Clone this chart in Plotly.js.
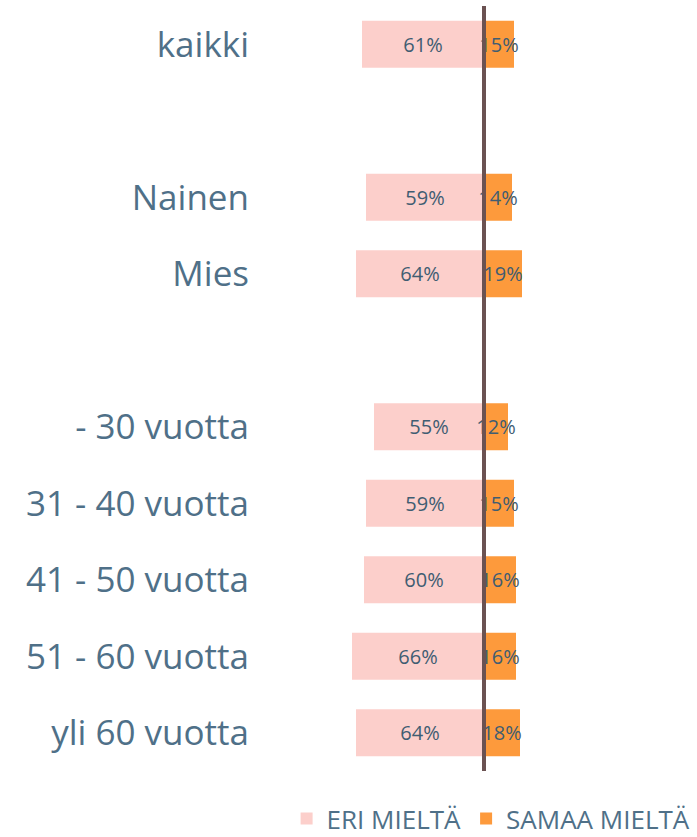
<!DOCTYPE html>
<html>
<head>
<meta charset="utf-8">
<script src="https://cdn.plot.ly/plotly-3.0.1.min.js"></script>
<style>html,body{margin:0;padding:0;background:#fff;}#chart{width:697px;height:837px;}</style>
</head>
<body>
<div id="chart"></div>
<script>
const categories = ["kaikki", " ", "Nainen", "Mies", "  ", "- 30 vuotta", "31 - 40 vuotta", "41 - 50 vuotta", "51 - 60 vuotta", "yli 60 vuotta"];
const eriMielta = [61, null, 59, 64, null, 55, 59, 60, 66, 64];
const samaaMielta = [15, null, 14, 19, null, 12, 15, 16, 16, 18];
const seriesNames = ["ERI MIELTÄ", "SAMAA MIELTÄ"];

const labelColor = "#3f5d72";
const catColor = "#4f7088";
const font = "'Open Sans', Lato, sans-serif";

const traces = [
  {
    type: "bar", orientation: "h", name: seriesNames[0],
    y: categories, x: eriMielta.map(v => v == null ? null : -v),
    text: eriMielta.map(v => v == null ? "" : v + "%"),
    textposition: "inside", insidetextanchor: "middle", constraintext: "none", textangle: 0,
    textfont: {family: font, size: 20, color: labelColor},
    marker: {color: "#fccfcb"}, hoverinfo: "skip"
  },
  {
    type: "bar", orientation: "h", name: seriesNames[1],
    y: categories, x: samaaMielta,
    text: samaaMielta.map(v => v == null ? "" : v + "%"),
    textposition: "inside", insidetextanchor: "middle", constraintext: "none", textangle: 0,
    textfont: {family: font, size: 20, color: labelColor},
    marker: {color: "#fd9a3c"}, hoverinfo: "skip"
  }
];

const layout = {
  width: 697, height: 837,
  margin: {l: 256, r: 13, t: 6, b: 66},
  paper_bgcolor: "#ffffff", plot_bgcolor: "#ffffff",
  barmode: "relative", bargap: 0.385,
  font: {family: font, color: catColor},
  xaxis: {range: [-114, 100], showgrid: false, zeroline: false, showticklabels: false, showline: false, fixedrange: true},
  yaxis: {type: "category", categoryorder: "array", categoryarray: categories, autorange: "reversed",
          showgrid: false, zeroline: false, showline: false, ticks: "",
          tickfont: {family: font, size: 35, color: catColor}, ticklabelstandoff: 6},
  showlegend: true,
  legend: {orientation: "h", x: 0.998, xanchor: "right", xref: "container", y: 0.022, yanchor: "middle", yref: "container",
           font: {family: font, size: 26, color: catColor}, traceorder: "normal", itemwidth: 30},
  shapes: [{type: "line", xref: "x", yref: "paper", x0: 0, x1: 0, y0: 0, y1: 1,
            line: {color: "#6b5252", width: 4}, layer: "above"}]
};

Plotly.newPlot("chart", traces, layout, {displayModeBar: false, staticPlot: true});
</script>
</body>
</html>
